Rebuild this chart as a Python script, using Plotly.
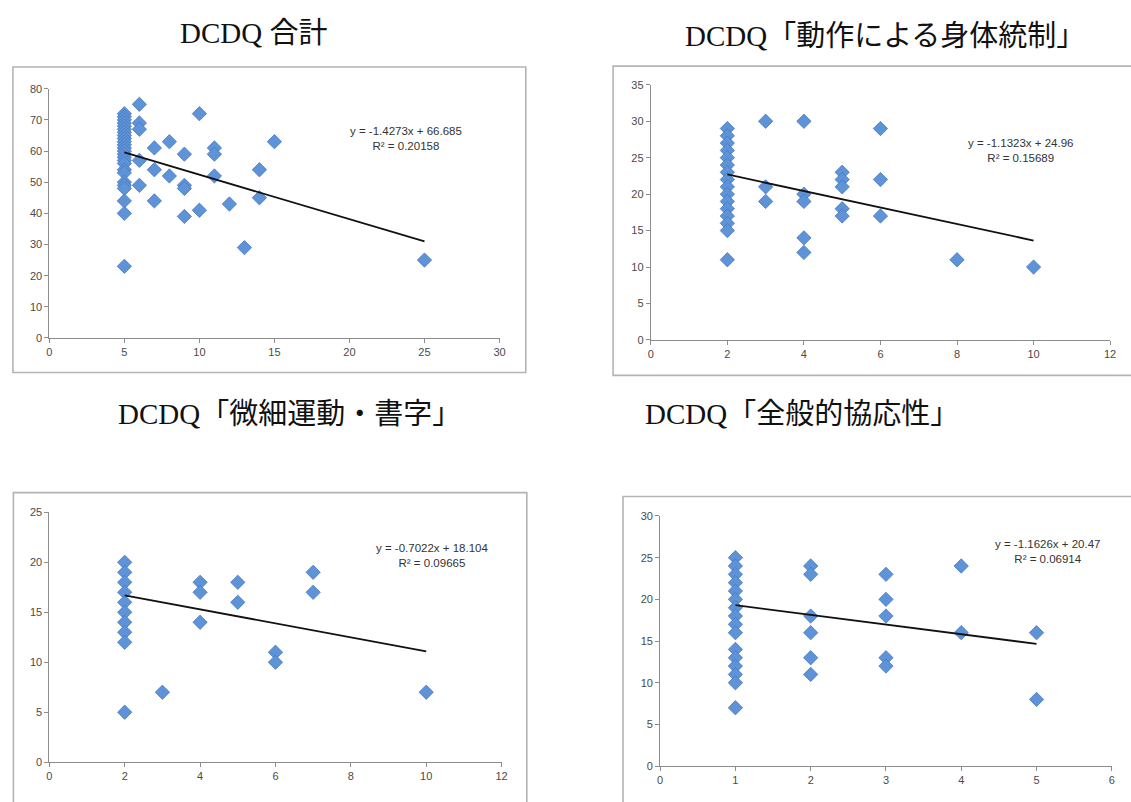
import numpy as np
import plotly.graph_objects as go

W, H = 1131, 802

# ---- data: DCDQ scores vs. x-variable -------------------------------------
total_x = [5] * 25 + [6] * 5 + [7] * 3 + [8] * 2 + [9] * 4 + [10] * 2 + [11] * 3 + [12, 13] + [14] * 2 + [15, 25]
total_y = [72, 71, 70, 69, 68, 67, 66, 65, 64, 63, 62, 61, 60, 59, 58, 57, 56, 54, 53, 50, 49, 48, 44, 40, 23,
           75, 69, 67, 57, 49,
           61, 54, 44,
           63, 52,
           59, 49, 48, 39,
           72, 41,
           61, 59, 52,
           43, 29,
           54, 45,
           63, 25]

motor_x = [2] * 16 + [3] * 3 + [4] * 5 + [5] * 5 + [6] * 3 + [8, 10]
motor_y = [29, 28, 27, 26, 25, 24, 23, 22, 21, 20, 19, 18, 17, 16, 15, 11,
           30, 21, 19,
           30, 20, 19, 14, 12,
           23, 22, 21, 18, 17,
           29, 22, 17,
           11, 10]

fine_x = [2] * 10 + [3] + [4] * 3 + [5] * 2 + [6] * 2 + [7] * 2 + [10]
fine_y = [20, 19, 18, 17, 16, 15, 14, 13, 12, 5,
          7,
          18, 17, 14,
          18, 16,
          11, 10,
          19, 17,
          7]

coord_x = [1] * 16 + [2] * 6 + [3] * 5 + [4] * 2 + [5] * 2
coord_y = [25, 24, 23, 22, 21, 20, 19, 18, 17, 16, 14, 13, 12, 11, 10, 7,
           24, 23, 18, 16, 13, 11,
           23, 20, 18, 13, 12,
           24, 16,
           16, 8]

# linear trend coefficients (slope, intercept, R²)
total_fit = (-1.4273, 66.685, 0.20158)
motor_fit = (-1.1323, 24.96, 0.15689)
fine_fit = (-0.7022, 18.104, 0.09665)
coord_fit = (-1.1626, 20.47, 0.06914)

titles = ["DCDQ 合計", "DCDQ「動作による身体統制」", "DCDQ「微細運動・書字」", "DCDQ「全般的協応性」"]

# ---- layout helpers (pixel boxes -> paper fractions) -----------------------
def px_x(v):
    return v / W

def px_y(v):
    return 1 - v / H

def title_markup(t):
    # corner brackets set in a face that centres them in the em box
    br = '<span style="font-family:\'Noto Sans CJK TC\'">{}</span>'
    return t.replace("「", br.format("「")).replace("」", br.format("」"))

panels = [
    dict(x=total_x, y=total_y, fit=total_fit, xr=(0, 30), xd=5, yr=(0, 80), yd=10,
         plot=(46.7, 500.5, 84, 337), frame=(10, 527, 62, 372), eq=(406, 135), title=(253, 27)),
    dict(x=motor_x, y=motor_y, fit=motor_fit, xr=(0, 12), xd=2, yr=(0, 35), yd=5,
         plot=(653, 1116, 80, 339), frame=(615, 1140, 61, 375), eq=(1026, 147), title=(889, 27)),
    dict(x=fine_x, y=fine_y, fit=fine_fit, xr=(0, 12), xd=2, yr=(0, 25), yd=5,
         plot=(46.7, 502.6, 514, 767.7), frame=(10.5, 528, 494, 830), eq=(432, 558), title=(289, 411)),
    dict(x=coord_x, y=coord_y, fit=coord_fit, xr=(0, 6), xd=1, yr=(0, 30), yd=5,
         plot=(662.4, 1117.7, 517.7, 771.7), frame=(625, 1160, 498, 830), eq=(1053, 554), title=(805, 411)),
]

fig = go.Figure()
shapes = []
annotations = []

axis_color = "#8c8c8c"
tick_font = dict(family="Liberation Sans, Arial, sans-serif", size=11, color="#4a4a4a")

for i, p in enumerate(panels):
    n = "" if i == 0 else str(i + 1)
    xa, ya = "x" + n, "y" + n
    x0, x1, yt, yb = p["plot"]

    # outer chart frame
    fx0, fx1, fyt, fyb = p["frame"]
    shapes.append(dict(type="rect", xref="paper", yref="paper",
                       x0=px_x(fx0), x1=px_x(fx1), y0=px_y(fyb), y1=px_y(fyt),
                       line=dict(color="#b4b4b4", width=1.6), fillcolor="rgba(0,0,0,0)", layer="below"))

    fig.add_trace(go.Scatter(
        x=p["x"], y=p["y"], mode="markers", xaxis=xa, yaxis=ya, showlegend=False,
        marker=dict(symbol="diamond", size=11, color="#5f93d8",
                    line=dict(color="#4678be", width=0.8)),
    ))

    slope, icpt, r2 = p["fit"]
    xs = np.array([min(p["x"]), max(p["x"])], dtype=float)
    fig.add_trace(go.Scatter(
        x=xs, y=slope * xs + icpt, mode="lines", xaxis=xa, yaxis=ya, showlegend=False,
        line=dict(color="#111111", width=1.8),
    ))

    common = dict(showgrid=False, zeroline=False, showline=True, linecolor=axis_color, linewidth=1,
                  ticks="outside", ticklen=4, tickcolor=axis_color, tickfont=tick_font)
    fig.layout["xaxis" + n] = dict(domain=[px_x(x0), px_x(x1)], range=list(p["xr"]), dtick=p["xd"],
                                   tick0=0, anchor=ya, **common)
    fig.layout["yaxis" + n] = dict(domain=[px_y(yb), px_y(yt)], range=list(p["yr"]), dtick=p["yd"],
                                   tick0=0, anchor=xa, **common)

    sign = "-" if icpt < 0 else "+"
    eq_text = f"y = {slope:.4f}x {sign} {abs(icpt):g}<br>R² = {r2:g}"
    ex, ey = p["eq"]
    annotations.append(dict(xref="paper", yref="paper", x=px_x(ex), y=px_y(ey), text=eq_text,
                            showarrow=False, align="center", xanchor="center", yanchor="middle",
                            font=dict(family="Liberation Sans, Arial, sans-serif", size=11.5, color="#333333")))

    tx, ty = p["title"]
    annotations.append(dict(xref="paper", yref="paper", x=px_x(tx), y=px_y(ty), text=title_markup(titles[i]),
                            showarrow=False, xanchor="center", yanchor="middle",
                            font=dict(family="Liberation Serif, Noto Sans CJK JP, serif", size=29,
                                      color="#111111")))

fig.update_layout(
    width=W, height=H, margin=dict(l=0, r=0, t=0, b=0),
    paper_bgcolor="white", plot_bgcolor="white",
    shapes=shapes, annotations=annotations,
)

fig.write_html("out.html")
